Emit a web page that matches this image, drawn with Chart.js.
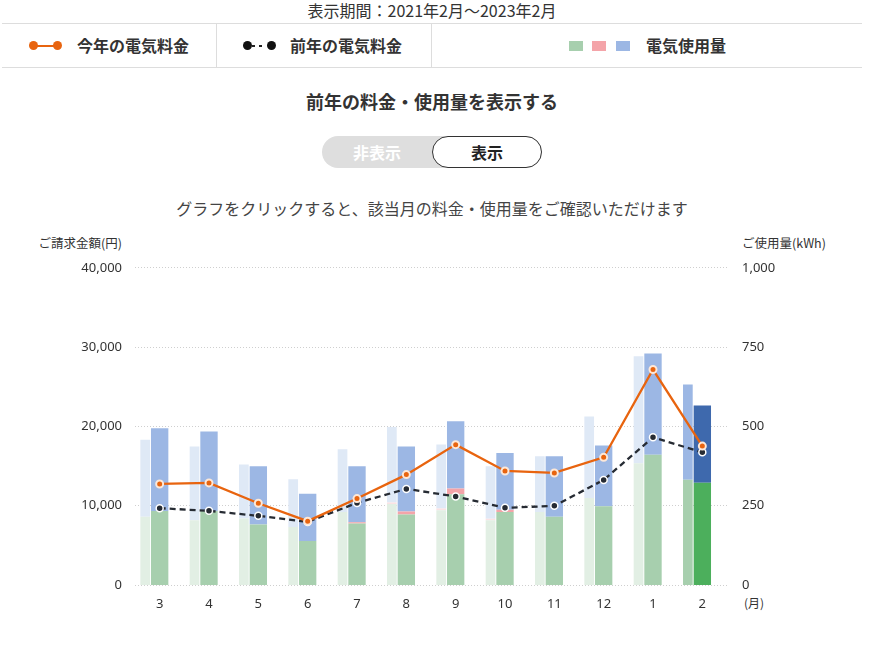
<!DOCTYPE html>
<html lang="ja">
<head>
<meta charset="utf-8">
<script src="https://cdn.jsdelivr.net/npm/chart.js@4.4.0/dist/chart.umd.min.js"></script>
<style>
  html, body { margin: 0; padding: 0; background: #fff; }
  body { width: 889px; height: 646px; position: relative; overflow: hidden;
         font-family: "Noto Sans CJK JP", "Noto Sans", sans-serif; color: #333; }
  .abs { position: absolute; white-space: nowrap; line-height: 1; }
  .period { left: 0; width: 864px; top: 2px; text-align: center; font-size: 16px; color: #333; }
  .legend { position: absolute; left: 2px; top: 23px; width: 860px; height: 45px;
            border-top: 1px solid #ddd; border-bottom: 1px solid #ddd; box-sizing: border-box; }
  .lg-div { position: absolute; top: 0; width: 1px; height: 43px; background: #ddd; }
  .lg-text { position: absolute; top: 13px; font-size: 16px; font-weight: bold; color: #333; line-height: 1; }
  .dot { position: absolute; width: 9px; height: 9px; border-radius: 50%; }
  .sq { position: absolute; top: 17px; width: 14px; height: 10px; }
  .subtitle { left: 0; width: 864px; top: 92px; text-align: center; font-size: 18px; font-weight: bold; }
  .toggle { position: absolute; left: 322px; top: 136px; width: 220px; height: 32px; border-radius: 16px; background: #dedede; }
  .toggle .off { position: absolute; left: 0; width: 110px; top: 8px; text-align: center; color: #fff; font-size: 16px; font-weight: bold; line-height: 1; }
  .toggle .on { position: absolute; left: 110px; top: 0; width: 110px; height: 32px; box-sizing: border-box;
                border: 1px solid #333; border-radius: 16px; background: #fff; text-align: center;
                font-size: 16px; font-weight: bold; line-height: 30px; color: #222; }
  .caption { left: 0; width: 864px; top: 200px; text-align: center; font-size: 16px; color: #444; }
  .axt { top: 237px; font-size: 12.5px; color: #333; }
  canvas { position: absolute; left: 0; top: 245px; }
</style>
</head>
<body>
<div class="abs period">表示期間：2021年2月～2023年2月</div>

<div class="legend">
  <div class="lg-div" style="left:214px"></div>
  <div class="lg-div" style="left:429px"></div>
  <div style="position:absolute;left:31px;top:21px;width:22px;height:2px;background:#e8640f"></div>
  <div class="dot" style="left:27px;top:17px;background:#e8640f"></div>
  <div class="dot" style="left:51px;top:17px;background:#e8640f"></div>
  <div class="lg-text" style="left:75px">今年の電気料金</div>
  <div style="position:absolute;left:250px;top:21px;width:3px;height:2px;background:#222"></div>
  <div style="position:absolute;left:257px;top:21px;width:3px;height:2px;background:#222"></div>
  <div class="dot" style="left:241px;top:17px;background:#111"></div>
  <div class="dot" style="left:265px;top:17px;background:#111"></div>
  <div class="lg-text" style="left:288px">前年の電気料金</div>
  <div class="sq" style="left:567px;background:#a7cfae"></div>
  <div class="sq" style="left:590px;background:#f4a4a9"></div>
  <div class="sq" style="left:614px;background:#9cb7e4"></div>
  <div class="lg-text" style="left:644px">電気使用量</div>
</div>

<div class="abs subtitle">前年の料金・使用量を表示する</div>
<div class="toggle"><div class="off">非表示</div><div class="on">表示</div></div>
<div class="abs caption">グラフをクリックすると、該当月の料金・使用量をご確認いただけます</div>

<div class="abs axt" style="right:767px">ご請求金額(円)</div>
<div class="abs axt" style="left:742px">ご使用量(kWh)</div>
<div class="abs" style="left:744px;top:597px;font-size:12px;color:#333">(月)</div>

<canvas id="c" width="889" height="380"></canvas>

<script>
// ---- data ----
const months = ["3","4","5","6","7","8","9","10","11","12","1","2"];

// current year usage (kWh)
const curGreen = [233, 233, 191, 139, 194, 222, 286, 230, 215, 248, 411, 322];
const curPink  = [0, 0, 0, 0, 4, 10, 18, 7, 0, 0, 0, 0];
const curBlue  = [261, 251, 183, 149, 176, 205, 212, 179, 191, 192, 319, 244];

// previous year usage (kWh)
const prevGreen = [215, 204, 210, 183, 230, 255, 236, 204, 230, 274, 384, 332];
const prevPink  = [0, 0, 0, 0, 0, 5, 5, 5, 0, 0, 0, 0];
const prevBlue  = [243, 233, 170, 150, 198, 238, 202, 165, 176, 257, 337, 300];

// billing (yen)
const curYen  = [12740, 12870, 10310, 8050, 10900, 13920, 17700, 14380, 14130, 16100, 27170, 17520];
const prevYen = [9690, 9350, 8720, 7960, 10350, 12120, 11160, 9730, 9980, 13250, 18620, 16730];

const yenTicks = [0, 10000, 20000, 30000, 40000];
const kwhTicks = [0, 250, 500, 750, 1000];

// ---- styles ----
const selIdx = months.length - 1;
const C = {
  curG: '#a7cfae', curP: '#f4a4a9', curB: '#9cb7e4',
  selG: '#4caf5c', selP: '#e0727a', selB: '#3e69ad',
  prvG: '#e2efe4', prvP: '#fbe2e4', prvB: '#dfe9f6'
};
const pick = (normal, sel) => ctx => ctx.dataIndex === selIdx ? sel : normal;

const prevBar = { type: 'bar', stack: 'prev', yAxisID: 'y2', categoryPercentage: 0.88, barPercentage: 0.67, order: 3 };
const curBar  = { type: 'bar', stack: 'cur',  yAxisID: 'y2', categoryPercentage: 0.88, barPercentage: 1.2, order: 3 };

new Chart(document.getElementById('c'), {
  data: {
    labels: months,
    datasets: [
      { ...prevBar, data: prevGreen, backgroundColor: pick(C.prvG, C.curG) },
      { ...prevBar, data: prevPink,  backgroundColor: pick(C.prvP, C.curP) },
      { ...prevBar, data: prevBlue,  backgroundColor: pick(C.prvB, C.curB) },
      { ...curBar, data: curGreen, backgroundColor: pick(C.curG, C.selG) },
      { ...curBar, data: curPink,  backgroundColor: pick(C.curP, C.selP) },
      { ...curBar, data: curBlue,  backgroundColor: pick(C.curB, C.selB) },
      { type: 'bar', stack: 'pad', yAxisID: 'y2', categoryPercentage: 0.88, barPercentage: 1,
        data: months.map(() => null), backgroundColor: 'rgba(0,0,0,0)', order: 3 },
      { type: 'line', yAxisID: 'y', data: prevYen, borderColor: '#262b33', borderWidth: 2.3,
        borderDash: [6, 4], pointRadius: 3.5, pointBackgroundColor: '#262b33',
        pointBorderColor: '#ffffff', pointBorderWidth: 1.5, tension: 0, order: 2 },
      { type: 'line', yAxisID: 'y', data: curYen, borderColor: '#e8640f', borderWidth: 2.3,
        pointRadius: 3.5, pointBackgroundColor: '#e8640f',
        pointBorderColor: '#fde8d8', pointBorderWidth: 2, tension: 0, order: 1 }
    ]
  },
  options: {
    responsive: false,
    animation: false,
    devicePixelRatio: 1,
    layout: { padding: { top: 2, bottom: 10, left: 0, right: 0 } },
    plugins: { legend: { display: false }, tooltip: { enabled: false } },
    scales: {
      x: {
        grid: { display: false },
        border: { display: false },
        ticks: { color: '#333', font: { size: 13, family: '"Noto Sans", sans-serif' }, padding: 3 },
        afterFit: s => { s.height = 30; }
      },
      y: {
        position: 'left',
        min: yenTicks[0], max: yenTicks[yenTicks.length - 1],
        afterBuildTicks: s => { s.ticks = yenTicks.map(v => ({ value: v })); },
        grid: { color: '#cfcfcf', lineWidth: 1, drawTicks: false },
        border: { display: false, dash: [1, 2] },
        ticks: { color: '#333', padding: 13, font: { size: 13, family: '"Noto Sans", sans-serif' },
                 callback: v => v.toLocaleString('en-US') },
        afterFit: s => { s.width = 135; }
      },
      y2: {
        position: 'right',
        stacked: true,
        min: kwhTicks[0], max: kwhTicks[kwhTicks.length - 1],
        afterBuildTicks: s => { s.ticks = kwhTicks.map(v => ({ value: v })); },
        grid: { display: false, drawTicks: false },
        border: { display: false },
        ticks: { color: '#333', padding: 15, font: { size: 13, family: '"Noto Sans", sans-serif' },
                 callback: v => v.toLocaleString('en-US') },
        afterFit: s => { s.width = 162; }
      }
    }
  }
});
</script>
</body>
</html>
